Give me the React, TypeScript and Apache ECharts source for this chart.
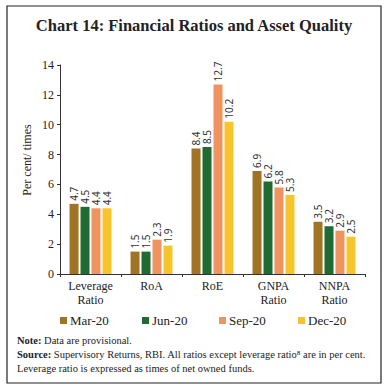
import React, { useEffect, useRef } from "react";
import * as echarts from "echarts";

const categories = ["Leverage\nRatio", "RoA", "RoE", "GNPA\nRatio", "NNPA\nRatio"];
const seriesNames = ["Mar-20", "Jun-20", "Sep-20", "Dec-20"];
const mar20 = [4.7, 1.5, 8.4, 6.9, 3.5];
const jun20 = [4.5, 1.5, 8.5, 6.2, 3.2];
const sep20 = [4.4, 2.3, 12.7, 5.8, 2.9];
const dec20 = [4.4, 1.9, 10.2, 5.3, 2.5];
const colors = ["#A07424", "#206B32", "#EF9360", "#F6C52C"];
const legendLefts = [55, 137, 214, 293];

const SERIF = "'Liberation Serif', 'DejaVu Serif', serif";

export default function App() {
  const ref = useRef<HTMLDivElement>(null);
  useEffect(() => {
    if (!ref.current) return;
    const chart = echarts.init(ref.current, null, { renderer: "svg" });
    const values = [mar20, jun20, sep20, dec20];
    const option: any = {
      animation: false,
      backgroundColor: "#ffffff",
      grid: { left: 60, right: 22, top: 65, bottom: 114, containLabel: false },
      legend: seriesNames.map((n, i) => ({
        data: [n],
        left: legendLefts[i],
        top: 309,
        itemWidth: 7,
        itemHeight: 7,
        itemGap: 4,
        icon: "rect",
        textStyle: { fontFamily: SERIF, fontSize: 13, color: "#222", padding: [0, 0, 0, -2] },
      })),
      xAxis: {
        type: "category",
        data: categories,
        axisLine: { lineStyle: { color: "#333", width: 1 } },
        axisTick: { show: true, length: 3, alignWithLabel: false, lineStyle: { color: "#333" } },
        axisLabel: { fontFamily: SERIF, fontSize: 12, color: "#222", lineHeight: 14, margin: 5, interval: 0 },
      },
      yAxis: {
        type: "value",
        min: 0,
        max: 14,
        interval: 2,
        splitLine: { show: false },
        axisLine: { show: true, lineStyle: { color: "#333", width: 1 } },
        axisTick: { show: true, length: 3, lineStyle: { color: "#333" } },
        axisLabel: { fontFamily: SERIF, fontSize: 12, color: "#222", margin: 6 },
      },
      series: seriesNames.map((n, i) => ({
        name: n,
        type: "bar",
        data: values[i],
        barWidth: 9,
        barGap: "22%",
        itemStyle: { color: colors[i] },
        label: {
          show: true,
          position: "top",
          rotate: 90,
          align: "left",
          verticalAlign: "middle",
          distance: 3,
          fontFamily: "'Noto Sans', 'DejaVu Sans', sans-serif",
          fontSize: 10,
          color: "#333",
          formatter: (p: any) => p.value.toFixed(1),
        },
      })),
      graphic: [
        {
          type: "rect",
          shape: { x: 7, y: 6, width: 374, height: 377 },
          style: { fill: "none", stroke: "#222", lineWidth: 1.2 },
        },
        {
          type: "text",
          x: 194,
          y: 25,
          style: {
            text: "Chart 14: Financial Ratios and Asset Quality",
            fontFamily: SERIF,
            fontWeight: "bold",
            fontSize: 16.5,
            fill: "#222",
            align: "center",
            verticalAlign: "middle",
          },
        },
        {
          type: "text",
          x: 27,
          y: 160,
          rotation: Math.PI / 2,
          style: {
            text: "Per cent/ times",
            fontFamily: SERIF,
            fontSize: 12,
            fill: "#222",
            align: "center",
            verticalAlign: "middle",
          },
        },
        {
          type: "text",
          x: 17,
          y: 340,
          style: {
            text: "{b|Note:} Data are provisional.",
            fontFamily: SERIF,
            fontSize: 10.5,
            fill: "#222",
            verticalAlign: "middle",
            rich: { b: { fontWeight: "bold", fontFamily: SERIF, fontSize: 10.5, fill: "#222" } },
          },
        },
        {
          type: "text",
          x: 17,
          y: 354,
          style: {
            text: "{b|Source:} Supervisory Returns, RBI. All ratios except leverage ratio⁸ are in per cent.",
            fontFamily: SERIF,
            fontSize: 10.5,
            fill: "#222",
            verticalAlign: "middle",
            rich: { b: { fontWeight: "bold", fontFamily: SERIF, fontSize: 10.5, fill: "#222" } },
          },
        },
        {
          type: "text",
          x: 17,
          y: 368,
          style: {
            text: "Leverage ratio is expressed as times of net owned funds.",
            fontFamily: SERIF,
            fontSize: 10.5,
            fill: "#222",
            verticalAlign: "middle",
          },
        },
      ],
    };
    chart.setOption(option);
    return () => chart.dispose();
  }, []);
  return <div ref={ref} style={{ width: 387, height: 388, position: "absolute", left: 0, top: 0 }} />;
}
